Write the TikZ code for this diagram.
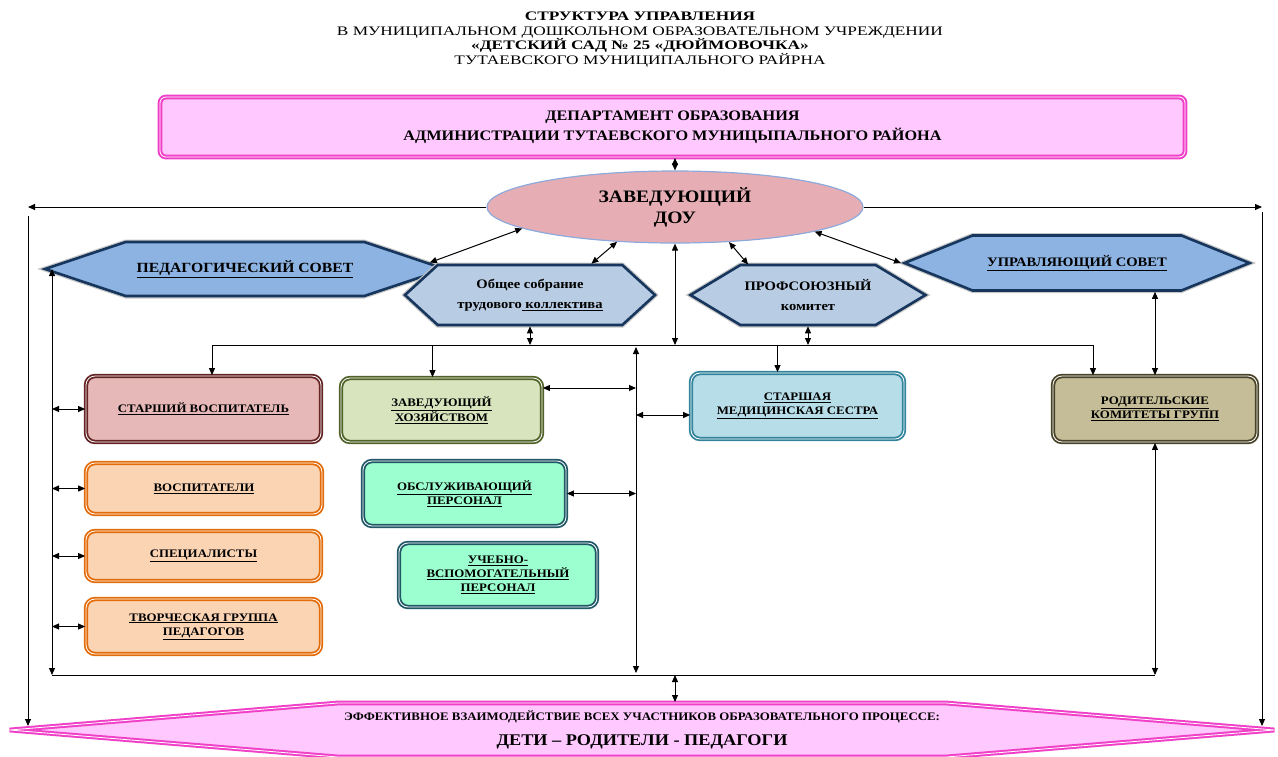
\documentclass[tikz,border=0pt]{standalone}
\usepackage{fontspec}
\setmainfont{Liberation Serif}[FakeStretch=1.12]
\newfontfamily\titlefont{Liberation Serif}[FakeStretch=1.33]
\usetikzlibrary{arrows.meta,shapes.geometric,shapes.symbols}

\newcommand{\tightlines}{\lineskiplimit-20pt\relax}

%% colours of the scheme
\definecolor{deptfill}{HTML}{FFC9FF}
\definecolor{deptline}{HTML}{F040C8}
\definecolor{ellfill}{HTML}{E6AEB4}
\definecolor{ellline}{HTML}{8EA9DB}
\definecolor{hexdark}{HTML}{8DB3E2}
\definecolor{hexlight}{HTML}{B8CCE4}
\definecolor{hexline}{HTML}{17365D}
\definecolor{svfill}{HTML}{E6B8B7}
\definecolor{svline}{HTML}{632423}
\definecolor{zhfill}{HTML}{D7E4BD}
\definecolor{zhline}{HTML}{4F6228}
\definecolor{orfill}{HTML}{FBD4B4}
\definecolor{orline}{HTML}{E36C09}
\definecolor{grfill}{HTML}{9CFFCF}
\definecolor{grline}{HTML}{215867}
\definecolor{msfill}{HTML}{B7DDE8}
\definecolor{msline}{HTML}{31849B}
\definecolor{rkfill}{HTML}{C4BD97}
\definecolor{rkline}{HTML}{494429}

\tikzset{
  lbl/.style={font=\bfseries\fontsize{11.5}{14}\selectfont, align=center},
  box/.style 2 args={lbl, fill=#1, draw=#2, line width=1.8pt, double=white,
    double distance=0.8pt, rounded corners=9pt, inner sep=0pt},
  hexa/.style={lbl, signal, signal to=east and west, fill=#1, draw=hexline,
    line width=2.6pt, preaction={draw=gray!45, line width=5pt}, inner sep=0pt},
  line/.style={line width=1pt},
  arr/.style={line, -{Triangle[length=7pt,width=6pt]}},
  dbl/.style={line, {Triangle[length=7pt,width=6pt]}-{Triangle[length=7pt,width=6pt]}},
}

\begin{document}
\begin{tikzpicture}[x=1pt,y=-1pt]
\useasboundingbox (0,0) rectangle (1278,756);

%% heading
\node[align=center, font=\titlefont\fontsize{13}{14.7}\selectfont\tightlines] (title) at (640,39.5)
  {\textbf{СТРУКТУРА УПРАВЛЕНИЯ}\\
   В МУНИЦИПАЛЬНОМ ДОШКОЛЬНОМ ОБРАЗОВАТЕЛЬНОМ УЧРЕЖДЕНИИ\\
   \textbf{«ДЕТСКИЙ САД № 25 «ДЮЙМОВОЧКА»}\\
   ТУТАЕВСКОГО МУНИЦИПАЛЬНОГО РАЙРНА};

%% department and head
\node[lbl, font=\bfseries\fontsize{14.5}{20}\selectfont, fill=deptfill, draw=deptline,
  line width=2pt, double=white, double distance=0.8pt, rounded corners=6pt,
  minimum width=1025pt, minimum height=60pt] (dept) at (672.5,127)
  {ДЕПАРТАМЕНТ ОБРАЗОВАНИЯ\\АДМИНИСТРАЦИИ ТУТАЕВСКОГО МУНИЦЫПАЛЬНОГО РАЙОНА};
\node[ellipse, fill=ellfill, draw=ellline, line width=1.2pt, align=center,
  font=\bfseries\fontsize{17.5}{21}\selectfont,
  minimum width=376pt, minimum height=72pt] (zav) at (675,207) {ЗАВЕДУЮЩИЙ\\ДОУ};

%% councils
\node[hexa=hexdark, font=\bfseries\fontsize{14}{15}\selectfont, minimum width=400pt,
  minimum height=54pt, signal pointer angle=37]
  (ped) at (245,269) {\underline{ПЕДАГОГИЧЕСКИЙ СОВЕТ}};
\node[hexa=hexlight, font=\bfseries\fontsize{13}{20}\selectfont, minimum width=250pt,
  minimum height=60pt, signal pointer angle=85]
  (obsch) at (530,295) {Общее собрание\\трудового\underline{ коллектива}};
\node[hexa=hexlight, font=\bfseries\fontsize{13}{20}\selectfont, minimum width=235pt,
  minimum height=60pt, signal pointer angle=62]
  (prof) at (808,295) {ПРОФСОЮЗНЫЙ\\комитет};
\node[hexa=hexdark, font=\bfseries\fontsize{13}{15}\selectfont, minimum width=345pt,
  minimum height=55pt, signal pointer angle=44]
  (upr) at (1077,263) {\underline{УПРАВЛЯЮЩИЙ СОВЕТ}};

%% staff boxes
\node[box={svfill}{svline}, minimum width=235pt, minimum height=66pt] (sv) at (203.5,409)
  {\underline{СТАРШИЙ ВОСПИТАТЕЛЬ}};
\node[box={zhfill}{zhline}, minimum width=201pt, minimum height=64pt] (zh) at (441.5,410)
  {\underline{ЗАВЕДУЮЩИЙ}\\\underline{ХОЗЯЙСТВОМ}};
\node[box={orfill}{orline}, minimum width=236pt, minimum height=51pt] (vos) at (204,488.5)
  {\underline{ВОСПИТАТЕЛИ}};
\node[box={orfill}{orline}, minimum width=235pt, minimum height=50pt] (spec) at (203.5,556)
  {\underline{СПЕЦИАЛИСТЫ}};
\node[box={orfill}{orline}, minimum width=235pt, minimum height=55pt] (tvor) at (203.5,626.5)
  {\underline{ТВОРЧЕСКАЯ ГРУППА}\\\underline{ПЕДАГОГОВ}};
\node[box={grfill}{grline}, minimum width=203pt, minimum height=65pt] (obs) at (464.5,493.5)
  {\underline{ОБСЛУЖИВАЮЩИЙ}\\\underline{ПЕРСОНАЛ}};
\node[box={grfill}{grline}, minimum width=198pt, minimum height=64pt] (ucheb) at (498,575)
  {\underline{УЧЕБНО-}\\\underline{ВСПОМОГАТЕЛЬНЫЙ}\\\underline{ПЕРСОНАЛ}};
\node[box={msfill}{msline}, minimum width=213pt, minimum height=66pt] (med) at (797.5,406)
  {\underline{СТАРШАЯ}\\\underline{МЕДИЦИНСКАЯ СЕСТРА}};
\node[box={rkfill}{rkline}, minimum width=204pt, minimum height=66pt] (rod) at (1155,409)
  {\underline{РОДИТЕЛЬСКИЕ}\\\underline{КОМИТЕТЫ ГРУПП}};

%% bottom arrow shape
\node[signal, signal to=east and west, signal pointer angle=9.4, fill=deptfill,
  draw=deptline, line width=2pt, double=white, double distance=0.8pt,
  minimum width=1265pt, minimum height=54pt, inner sep=0pt, align=center] (eff) at (642,730)
  {{\bfseries\fontsize{11.5}{13}\selectfont ЭФФЕКТИВНОЕ ВЗАИМОДЕЙСТВИЕ ВСЕХ УЧАСТНИКОВ ОБРАЗОВАТЕЛЬНОГО ПРОЦЕССЕ:}\\[11pt]
   {\bfseries\fontsize{16.3}{18}\selectfont ДЕТИ – РОДИТЕЛИ - ПЕДАГОГИ}};

%% connectors
\draw[dbl] (dept.south -| zav.north) -- (zav.north);

%% outer frame
\coordinate (lt) at (28,216);
\coordinate (lb) at (28,726);
\coordinate (rt) at (1262,212);
\coordinate (rb) at (1262,726);
\draw[arr] (zav.west) -- (zav.west -| lt);
\draw[arr] (lt) -- (lb);
\draw[arr] (zav.east) -- (zav.east -| rt);
\draw[arr] (rt) -- (rb);

%% head to councils
\draw[dbl] (zav.188) -- (ped.2);
\draw[dbl] (zav.211) -- (obsch.27);
\draw[dbl] (zav.327) -- (prof.153);
\draw[dbl] (zav.350) -- (upr.west);

%% upper bus
\coordinate (busL) at (212,345);
\coordinate (busR) at (1093,345);
\draw[line] (busL) -- (busR);
\draw[dbl] (zav.south) -- (zav.south |- busL);
\draw[dbl] (obsch.south) -- (obsch.south |- busL);
\draw[dbl] (prof.south) -- (prof.south |- busL);
\coordinate (zhTop) at ([xshift=-9pt]zh.north);
\coordinate (msTop) at ([xshift=-20pt]med.north);
\draw[arr] (busL) -- (busL |- sv.north);
\draw[arr] (zhTop |- busL) -- (zhTop);
\draw[arr] (msTop |- busL) -- (msTop);
\draw[arr] (busR) -- (busR |- rod.north);

%% middle line
\coordinate (midT) at (636,347);
\coordinate (midB) at (636,673);
\draw[dbl] (midT) -- (midB);
\coordinate (zhR) at ([yshift=22pt]zh.east);
\coordinate (msL) at ([yshift=-9pt]med.west);
\draw[dbl] (zhR) -- (zhR -| midT);
\draw[dbl] (msL -| midT) -- (msL);
\draw[dbl] (obs.east) -- (obs.east -| midT);

%% lower bus
\coordinate (botL) at (52,675);
\coordinate (botR) at (rod.south |- botL);
\draw[line] (botL) -- (botR);
\draw[dbl] (ped.west -| botL) -- (botL);
\foreach \n in {sv,vos,spec,tvor}
  \draw[dbl] (\n.west -| botL) -- (\n.west);
\draw[dbl] (rod.south) -- (botR);
\draw[dbl] (rod.north |- upr.south) -- (rod.north);
\draw[dbl] (zav.south |- botL) -- (zav.south |- eff.north);

\end{tikzpicture}
\end{document}
